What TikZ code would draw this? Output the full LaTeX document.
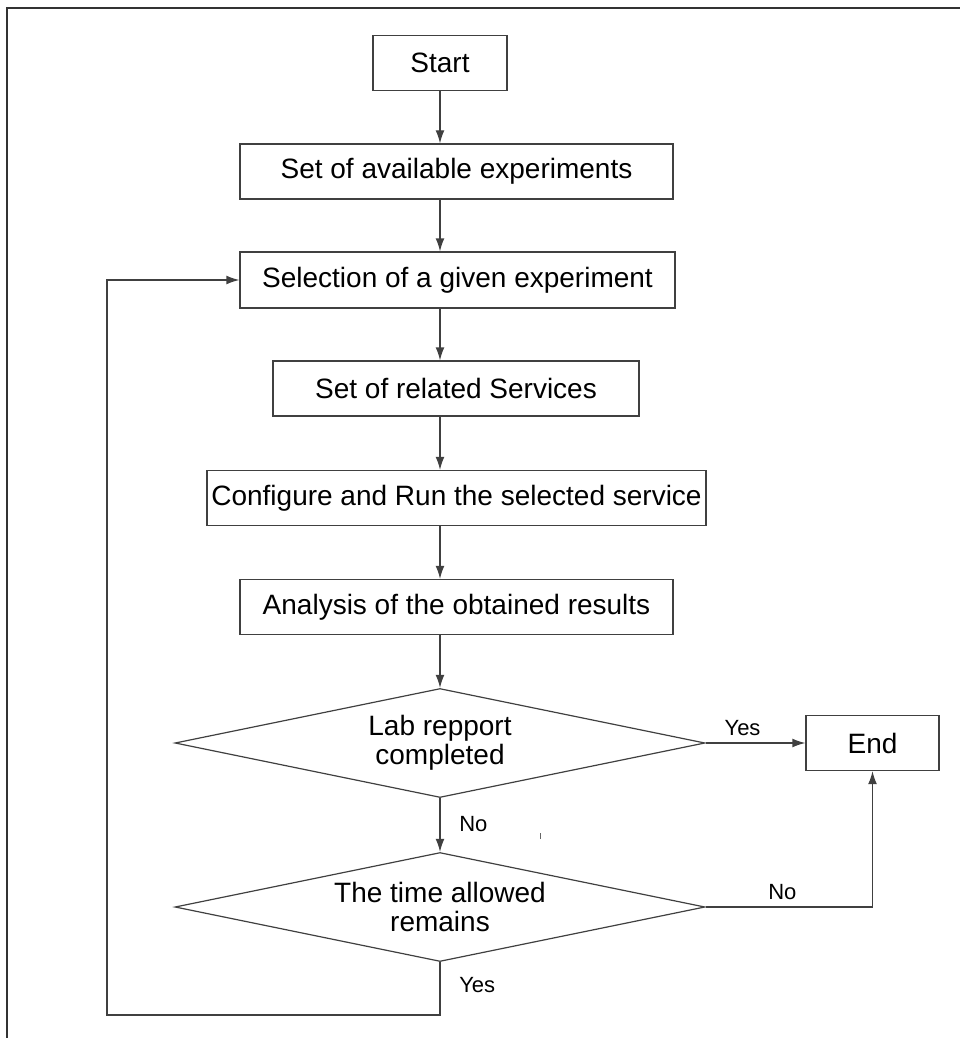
\documentclass[tikz,border=0pt]{standalone}
\usepackage{fontspec}
\setmainfont{Liberation Sans}
\usetikzlibrary{shapes.geometric,arrows.meta}

\begin{document}
\begin{tikzpicture}[
  x=0.5pt, y=-0.5pt,
  box/.style={rectangle, draw=black!75, line width=0.6pt, inner sep=0pt,
    minimum height=27.5pt, font=\fontsize{14}{17}\selectfont},
  decision/.style={diamond, draw=black!75, line width=0.6pt, inner sep=0pt,
    aspect=4.86, minimum width=265pt, minimum height=54.5pt, align=center,
    font=\fontsize{14}{14.5}\selectfont},
  answer/.style={font=\fontsize{11}{13}\selectfont},
  flow/.style={draw=black!75, line width=0.6pt, -{Latex[length=6.5pt,width=4.4pt]}}
  ]
  \useasboundingbox (0,0) rectangle (960,1038);
  \draw[black!80, line width=1pt] (7,1038) -- (7,8) -- (960,8);

  \node[box, minimum width=67pt] (start) at (440,63) {Start};
  \node[box, minimum width=216.5pt] (avail) at (456.5,171.5) {Set of available experiments};
  \node[box, minimum width=217.5pt, minimum height=28pt] (select) at (457.5,280) {Selection of a given experiment};
  \node[box, minimum width=183pt] (services) at (456,388.5) {Set of related Services};
  \node[box, minimum width=249.5pt] (config) at (456.5,498) {Configure and Run the selected service};
  \node[box, minimum width=216.5pt] (analysis) at (456.5,607) {Analysis of the obtained results};
  \node[decision] (report) at (440,743) {Lab repport\\completed};
  \node[decision] (time) at (440,907) {The time allowed\\remains};
  \node[box, minimum width=66.5pt] (end) at (872.5,743) {End};
  \coordinate (loop) at (107,1015);

  \draw[flow] (start.south) -- (start.south |- avail.north);
  \draw[flow] (avail.south -| start) -- (select.north -| start);
  \draw[flow] (select.south -| start) -- (services.north -| start);
  \draw[flow] (services.south -| start) -- (config.north -| start);
  \draw[flow] (config.south -| start) -- (analysis.north -| start);
  \draw[flow] (analysis.south -| report) -- (report.north);
  \draw[flow] (report.east) -- node[answer, above, pos=0.37] {Yes} (end.west);
  \draw[flow] (report.south) -- node[answer, right=6pt, pos=0.48] {No} (time.north);
  \draw[flow] (time.east) -- node[answer, above, pos=0.46] {No} (time.east -| end.south) -- (end.south);
  \draw[flow] (time.south) -- node[answer, right=6pt, pos=0.43] {Yes} (time.south |- loop) -- (loop) |- (select.west);
  \draw[black!60, line width=0.5pt] (540,833) -- (540,839);
\end{tikzpicture}
\end{document}
